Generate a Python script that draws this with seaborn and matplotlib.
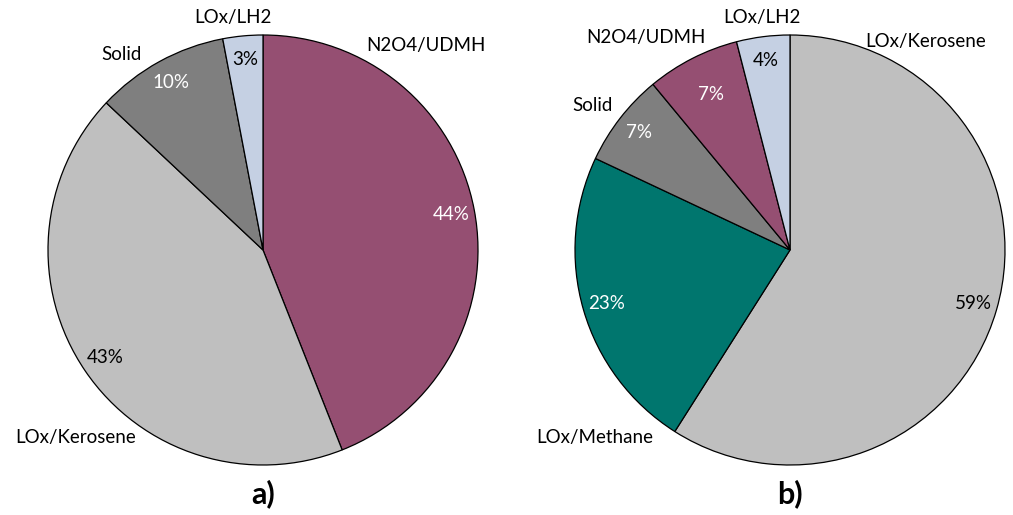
import matplotlib
matplotlib.use("Agg")
import matplotlib.pyplot as plt
import seaborn as sns

sns.set_theme(style="white")
plt.rcParams['font.family'] = ['Lato', 'DejaVu Sans']
plt.rcParams['text.color'] = 'black'

# --- data ---
labels_a = ["N2O4/UDMH", "LOx/Kerosene", "Solid", "LOx/LH2"]
values_a = [44, 43, 10, 3]
labels_b = ["LOx/Kerosene", "LOx/Methane", "Solid", "N2O4/UDMH", "LOx/LH2"]
values_b = [59, 23, 7, 7, 4]

colors = {
    "N2O4/UDMH": "#954F72",
    "LOx/Kerosene": "#BFBFBF",
    "Solid": "#7F7F7F",
    "LOx/LH2": "#C5D0E3",
    "LOx/Methane": "#00766E",
}
pct_color = {
    "N2O4/UDMH": "white",
    "LOx/Kerosene": "black",
    "Solid": "white",
    "LOx/LH2": "black",
    "LOx/Methane": "white",
}

# label positions (pie radius = 1), placed like Excel's best fit
label_pos_a = {"N2O4/UDMH": (0.76, 0.95), "LOx/Kerosene": (-0.87, -0.87),
               "Solid": (-0.66, 0.91), "LOx/LH2": (-0.14, 1.08)}
label_pos_b = {"LOx/Kerosene": (0.63, 0.97), "LOx/Methane": (-0.91, -0.87),
               "Solid": (-0.92, 0.67), "N2O4/UDMH": (-0.67, 0.99),
               "LOx/LH2": (-0.13, 1.08)}

fig = plt.figure(figsize=(10.13, 5.15), dpi=100)
W, H = 1013, 515
R = 215


def draw_pie(cx, cy, labels, values, label_pos, tag, pct_shift=None):
    ax = fig.add_axes([(cx - R) / W, (H - cy - R) / H, 2 * R / W, 2 * R / H])
    wedges, texts, autotexts = ax.pie(
        values, colors=[colors[l] for l in labels], startangle=90,
        counterclock=False, autopct=lambda p: f"{p:.0f}%", pctdistance=0.89,
        wedgeprops=dict(edgecolor="black", linewidth=0.9),
        textprops=dict(fontsize=13.5),
    )
    for i, (lab, t) in enumerate(zip(labels, autotexts)):
        t.set_color(pct_color[lab])
        if pct_shift and i in pct_shift:
            x, y = t.get_position()
            t.set_position((x * pct_shift[i], y * pct_shift[i]))
    for lab in labels:
        x, y = label_pos[lab]
        ax.text(x, y, lab, ha="center", va="center", fontsize=13.5, clip_on=False)
    ax.set_xlim(-1, 1)
    ax.set_ylim(-1, 1)
    ax.set_aspect("equal")
    ax.axis("off")
    fig.text(cx / W, 1 - 494 / H, tag, ha="center", va="center",
             fontsize=22, fontweight="bold")


draw_pie(263, 250, labels_a, values_a, label_pos_a, "a)")
draw_pie(790, 250, labels_b, values_b, label_pos_b, "b)", pct_shift={3: 0.91})

fig.savefig("out.png", dpi=100)
